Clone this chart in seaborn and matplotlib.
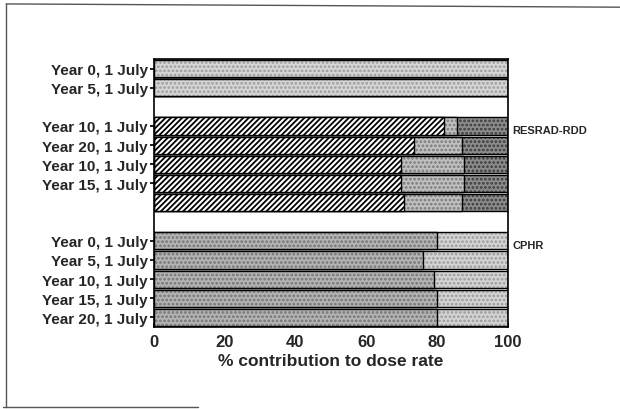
import matplotlib
matplotlib.use("Agg")
import matplotlib.pyplot as plt
from matplotlib.lines import Line2D
import pandas as pd
import seaborn as sns

# RESRAD-RDD group: first two bars are a single component, the rest split in three
resrad_labels = ["Year 0, 1 July", "Year 5, 1 July", "Year 10, 1 July",
                 "Year 20, 1 July", "Year 10, 1 July", "Year 15, 1 July", ""]
resrad_single = [100.0, 100.0, 0.0, 0.0, 0.0, 0.0, 0.0]
resrad_hatched = [0.0, 0.0, 81.8, 73.6, 69.9, 69.9, 70.7]
resrad_mid = [0.0, 0.0, 3.7, 13.4, 17.6, 17.6, 16.3]
resrad_dark = [0.0, 0.0, 14.5, 13.0, 12.5, 12.5, 13.0]

# CPHR group
cphr_labels = ["Year 0, 1 July", "Year 5, 1 July", "Year 10, 1 July",
               "Year 15, 1 July", "Year 20, 1 July"]
cphr_main = [80.0, 76.1, 79.0, 79.9, 79.9]
cphr_rest = [20.0, 23.9, 21.0, 20.1, 20.1]

x_ticks = [0, 20, 40, 60, 80, 100]
group_names = ["RESRAD-RDD", "CPHR"]

# slot keys: two RESRAD bars, a blank slot, five RESRAD bars, a blank slot, five CPHR bars
r_keys = [f"R{i}" for i in range(len(resrad_labels))]
c_keys = [f"C{i}" for i in range(len(cphr_labels))]
slot_order = r_keys[:2] + ["gap1"] + r_keys[2:] + ["gap2"] + c_keys
slot_labels = dict(zip(r_keys, resrad_labels)) | dict(zip(c_keys, cphr_labels))

res = pd.DataFrame({"slot": r_keys, "single": resrad_single, "hatched": resrad_hatched,
                    "mid": resrad_mid, "dark": resrad_dark})
res["end_single"] = res["single"]
res["end_hatched"] = res["end_single"] + res["hatched"]
res["end_mid"] = res["end_hatched"] + res["mid"]
res["end_dark"] = res["end_mid"] + res["dark"]

cph = pd.DataFrame({"slot": c_keys, "main": cphr_main, "rest": cphr_rest})
cph["end_main"] = cph["main"]
cph["end_rest"] = cph["main"] + cph["rest"]

sns.set_theme(style="white")
plt.rcParams["font.family"] = ["Liberation Sans", "DejaVu Sans"]
plt.rcParams["hatch.linewidth"] = 1.3

fig = plt.figure(figsize=(6.2, 4.1), dpi=100)
ax = fig.add_axes([0.2476, 0.2, 0.5718, 0.6537])

BAR_W = 0.9


def layer(df, col, face, pattern_color, pattern):
    # filled pattern first, then a black outline on top
    sns.barplot(data=df, x=col, y="slot", order=slot_order, orient="h",
                color=face, saturation=1, width=BAR_W, errorbar=None,
                edgecolor=pattern_color, linewidth=0, hatch=pattern, ax=ax)
    sns.barplot(data=df, x=col, y="slot", order=slot_order, orient="h",
                fill=False, width=BAR_W, errorbar=None, color="black",
                edgecolor="black", linewidth=1.0, ax=ax)


# stacked segments drawn back to front from cumulative ends
layer(res, "end_dark", "#8c8c8c", "#3a3a3a", "....")
layer(res, "end_mid", "#c0c0c0", "#7a7a7a", "....")
layer(res, "end_hatched", "white", "black", "//////")
layer(res, "end_single", "#d6d6d6", "#9c9c9c", "....")
layer(cph, "end_rest", "#d4d4d4", "#9a9a9a", "....")
layer(cph, "end_main", "#b4b4b4", "#747474", "....")

ax.set_xlim(0, 100)
ax.set_xticks(x_ticks)
ax.set_xticklabels([str(t) for t in x_ticks], fontsize=12, fontweight="bold")
labelled = [k for k in slot_order if slot_labels.get(k)]
ax.set_yticks([slot_order.index(k) for k in labelled])
ax.set_yticklabels([slot_labels[k] for k in labelled], fontsize=11,
                   fontweight="bold")
ax.set_ylabel("")
ax.set_xlabel("% contribution to dose rate", fontsize=12.5, fontweight="bold",
              labelpad=3)
ax.tick_params(axis="y", length=3, pad=1, color="black", left=True)
ax.tick_params(axis="x", length=3, direction="in", pad=5, color="black", bottom=True)
for side in ["left", "bottom", "right", "top"]:
    ax.spines[side].set_color("black")
    ax.spines[side].set_linewidth(1.2)

# group names at the right of the first bar of each group
ytr = ax.get_yaxis_transform()
ax.text(1.013, slot_order.index("R2") + 0.2, group_names[0], transform=ytr,
        fontsize=8, fontweight="bold", va="center", ha="left")
ax.text(1.013, slot_order.index("C0") + 0.2, group_names[1], transform=ytr,
        fontsize=8, fontweight="bold", va="center", ha="left")

# page frame
frame_kw = dict(color="#555555", linewidth=1.0, transform=fig.transFigure)
fig.add_artist(Line2D([0.0097, 1.0], [0.988, 0.980], **frame_kw))
fig.add_artist(Line2D([0.0097, 0.0097], [0.988, 0.005], **frame_kw))
fig.add_artist(Line2D([0.005, 0.32], [0.005, 0.005], **frame_kw))

fig.savefig("out.png", dpi=100)
